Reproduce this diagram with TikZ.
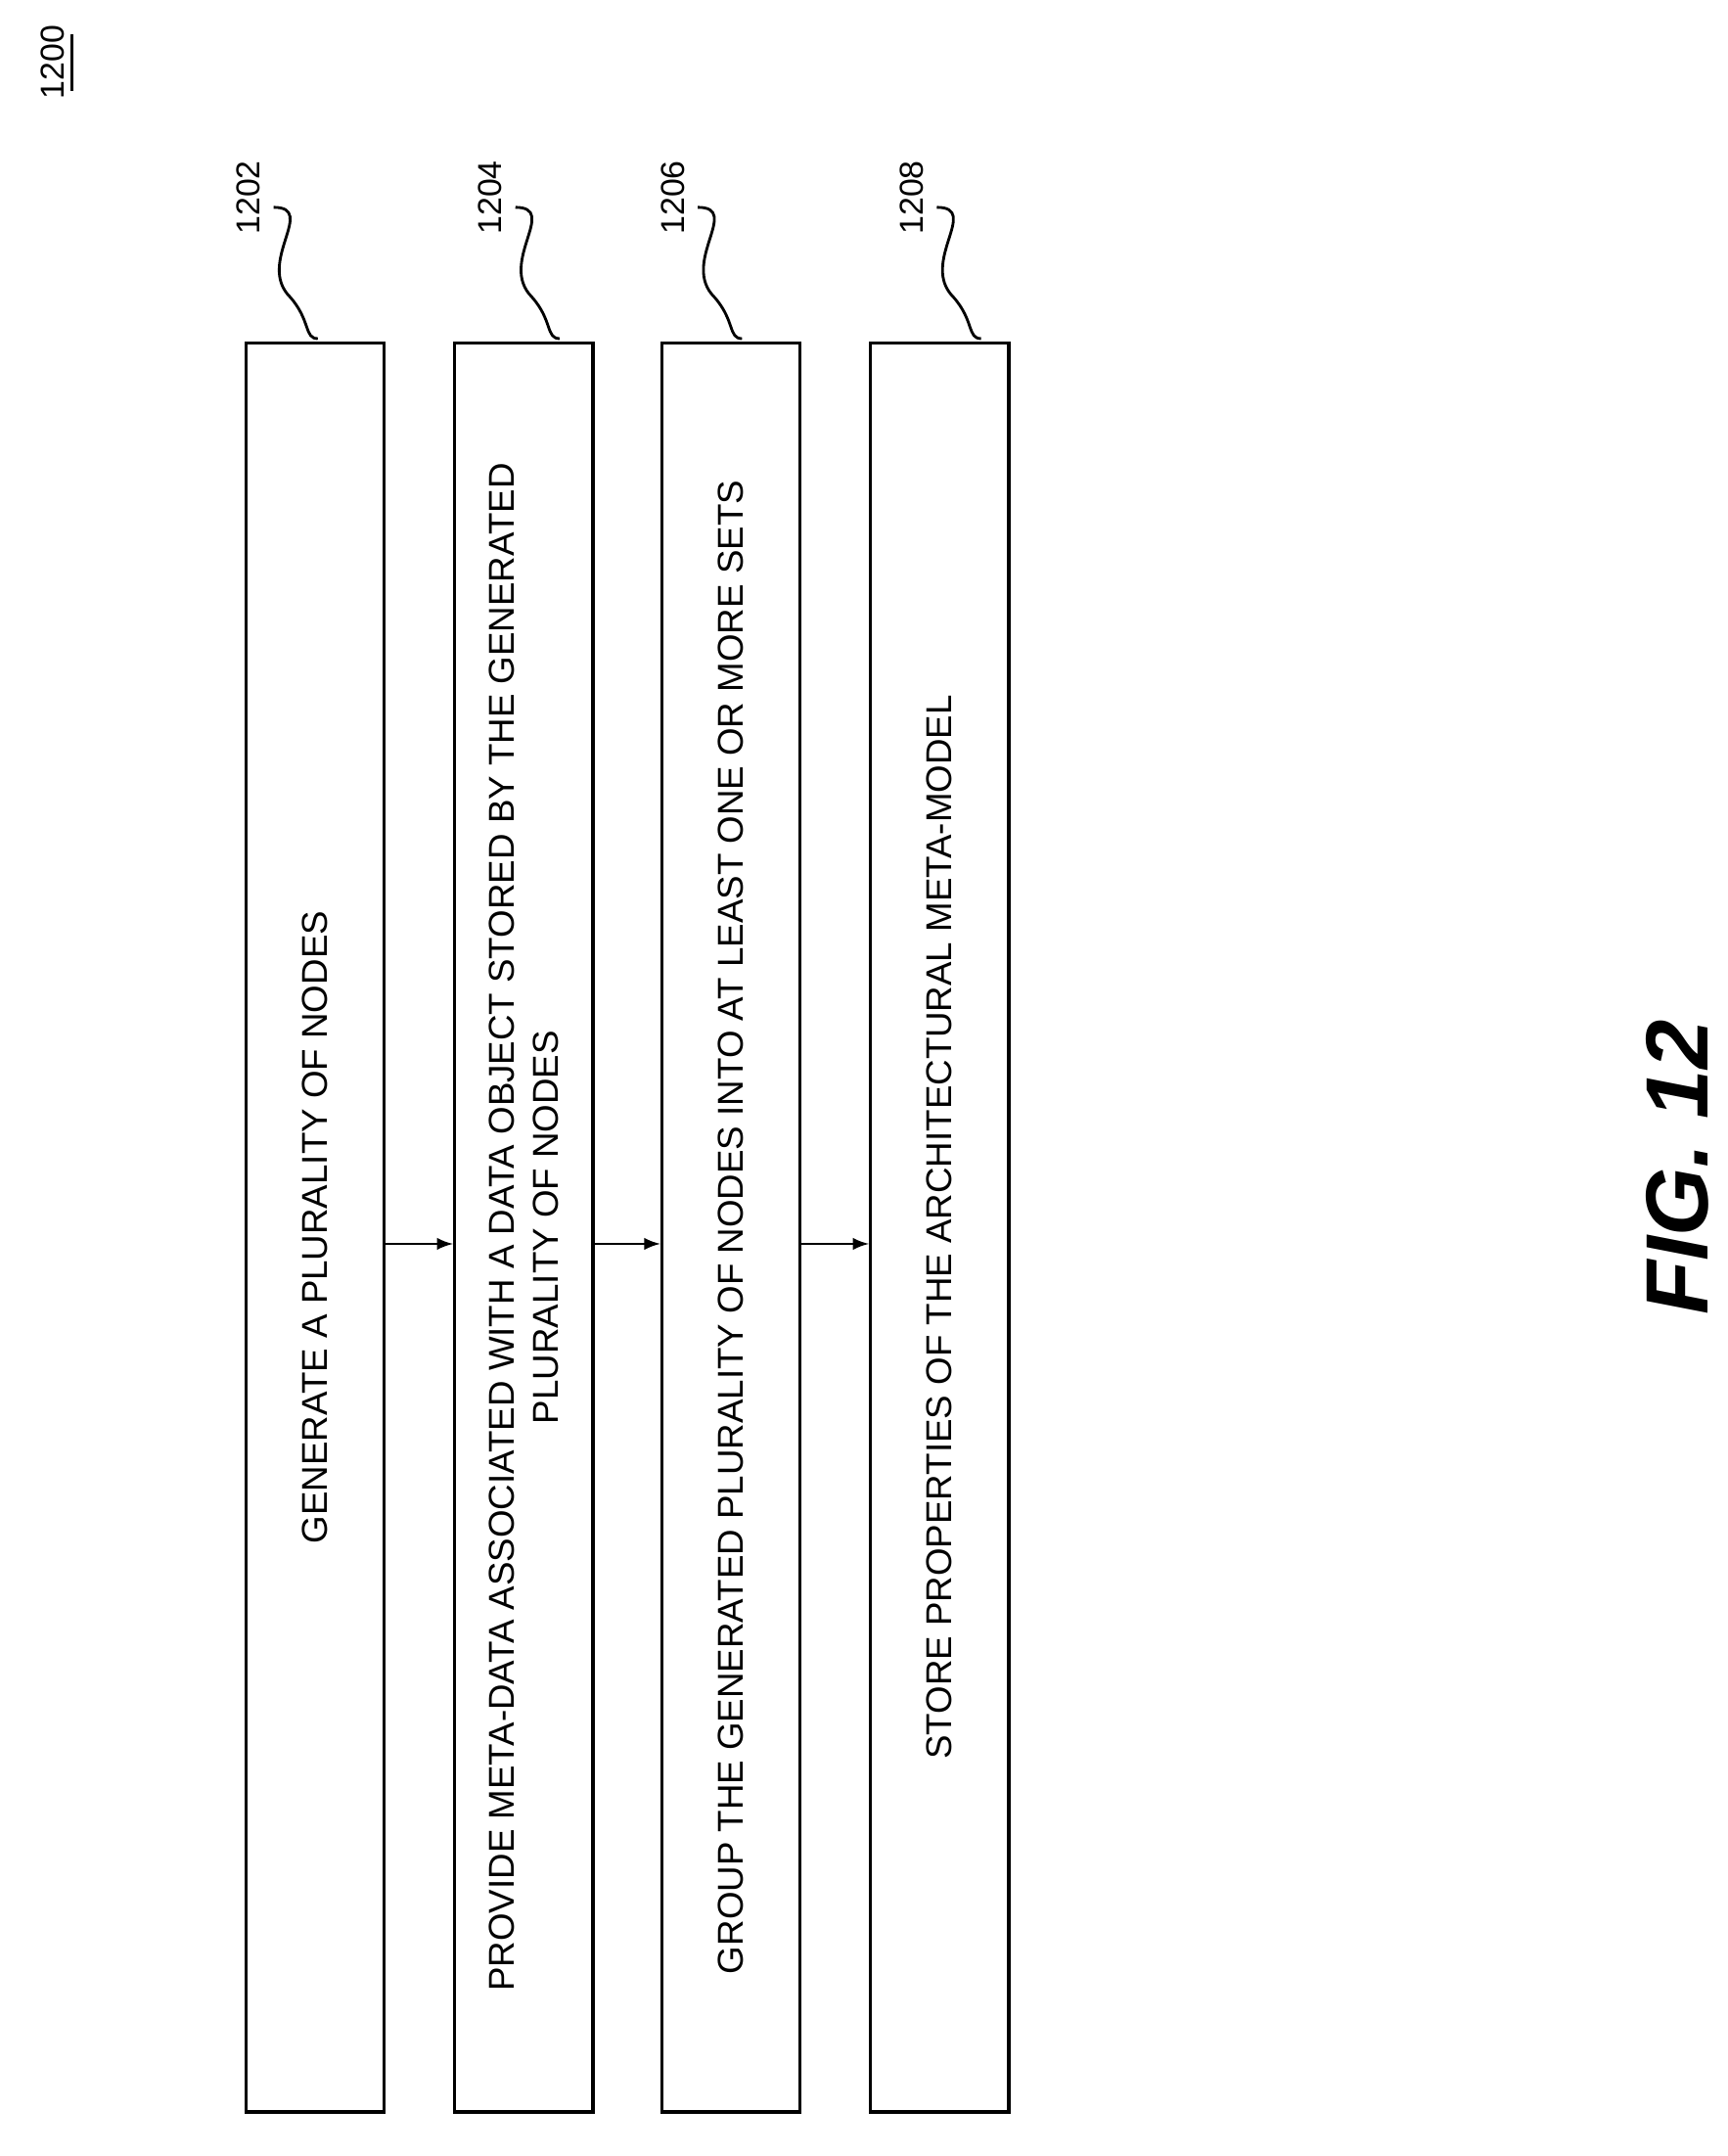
\documentclass[tikz,border=0pt]{standalone}
\usepackage{fontspec}
\setmainfont{Liberation Sans}
\usetikzlibrary{positioning,arrows}
\tikzset{
  stepbox/.style={draw,line width=1.2pt,minimum width=640pt,minimum height=50pt,rotate=90,align=center,font=\fontsize{13}{16}\selectfont},
  flow/.style={-latex,line width=1pt},
  refnum/.style={rotate=90,font=\fontsize{12}{14}\selectfont},
  squig/.style={line width=1pt}
}
\begin{document}
\begin{tikzpicture}[x=0.5pt,y=-0.5pt]
\useasboundingbox (0,0) rectangle (1250,1560);
 \node[refnum] (fig) at (38,45) {1200};
 \draw[line width=0.8pt] (52,25) -- (52,66);

 \node[stepbox] (s1) at (228,888) {GENERATE A PLURALITY OF NODES};
 \node[stepbox] (s2) at (379,888) {PROVIDE META-DATA ASSOCIATED WITH A DATA OBJECT STORED BY THE GENERATED\\PLURALITY OF NODES};
 \node[stepbox] (s3) at (529,888) {GROUP THE GENERATED PLURALITY OF NODES INTO AT LEAST ONE OR MORE SETS};
 \node[stepbox] (s4) at (680,888) {STORE PROPERTIES OF THE ARCHITECTURAL META-MODEL};

\draw[flow] (s1.south |- 0,900) -- (s2.north |- 0,900);
\draw[flow] (s2.south |- 0,900) -- (s3.north |- 0,900);
\draw[flow] (s3.south |- 0,900) -- (s4.north |- 0,900);

 % reference numerals
\foreach \n/\x/\b in {1202/180/s1,1204/355/s2,1206/487/s3,1208/660/s4}{
  \node[refnum] (r\n) at (\x,143) {\n};
  \draw[squig] (\x+18,150) .. controls (\x+50,150) and (\x+5,190) .. (\x+30,215)
     .. controls (\x+45,232) and (\x+40,245) .. (\x+50,245);
}

\node[rotate=90,font=\fontsize{32}{38}\selectfont\bfseries\itshape] (caption) at (1214,845) {FIG. 12};
\end{tikzpicture}
\end{document}
